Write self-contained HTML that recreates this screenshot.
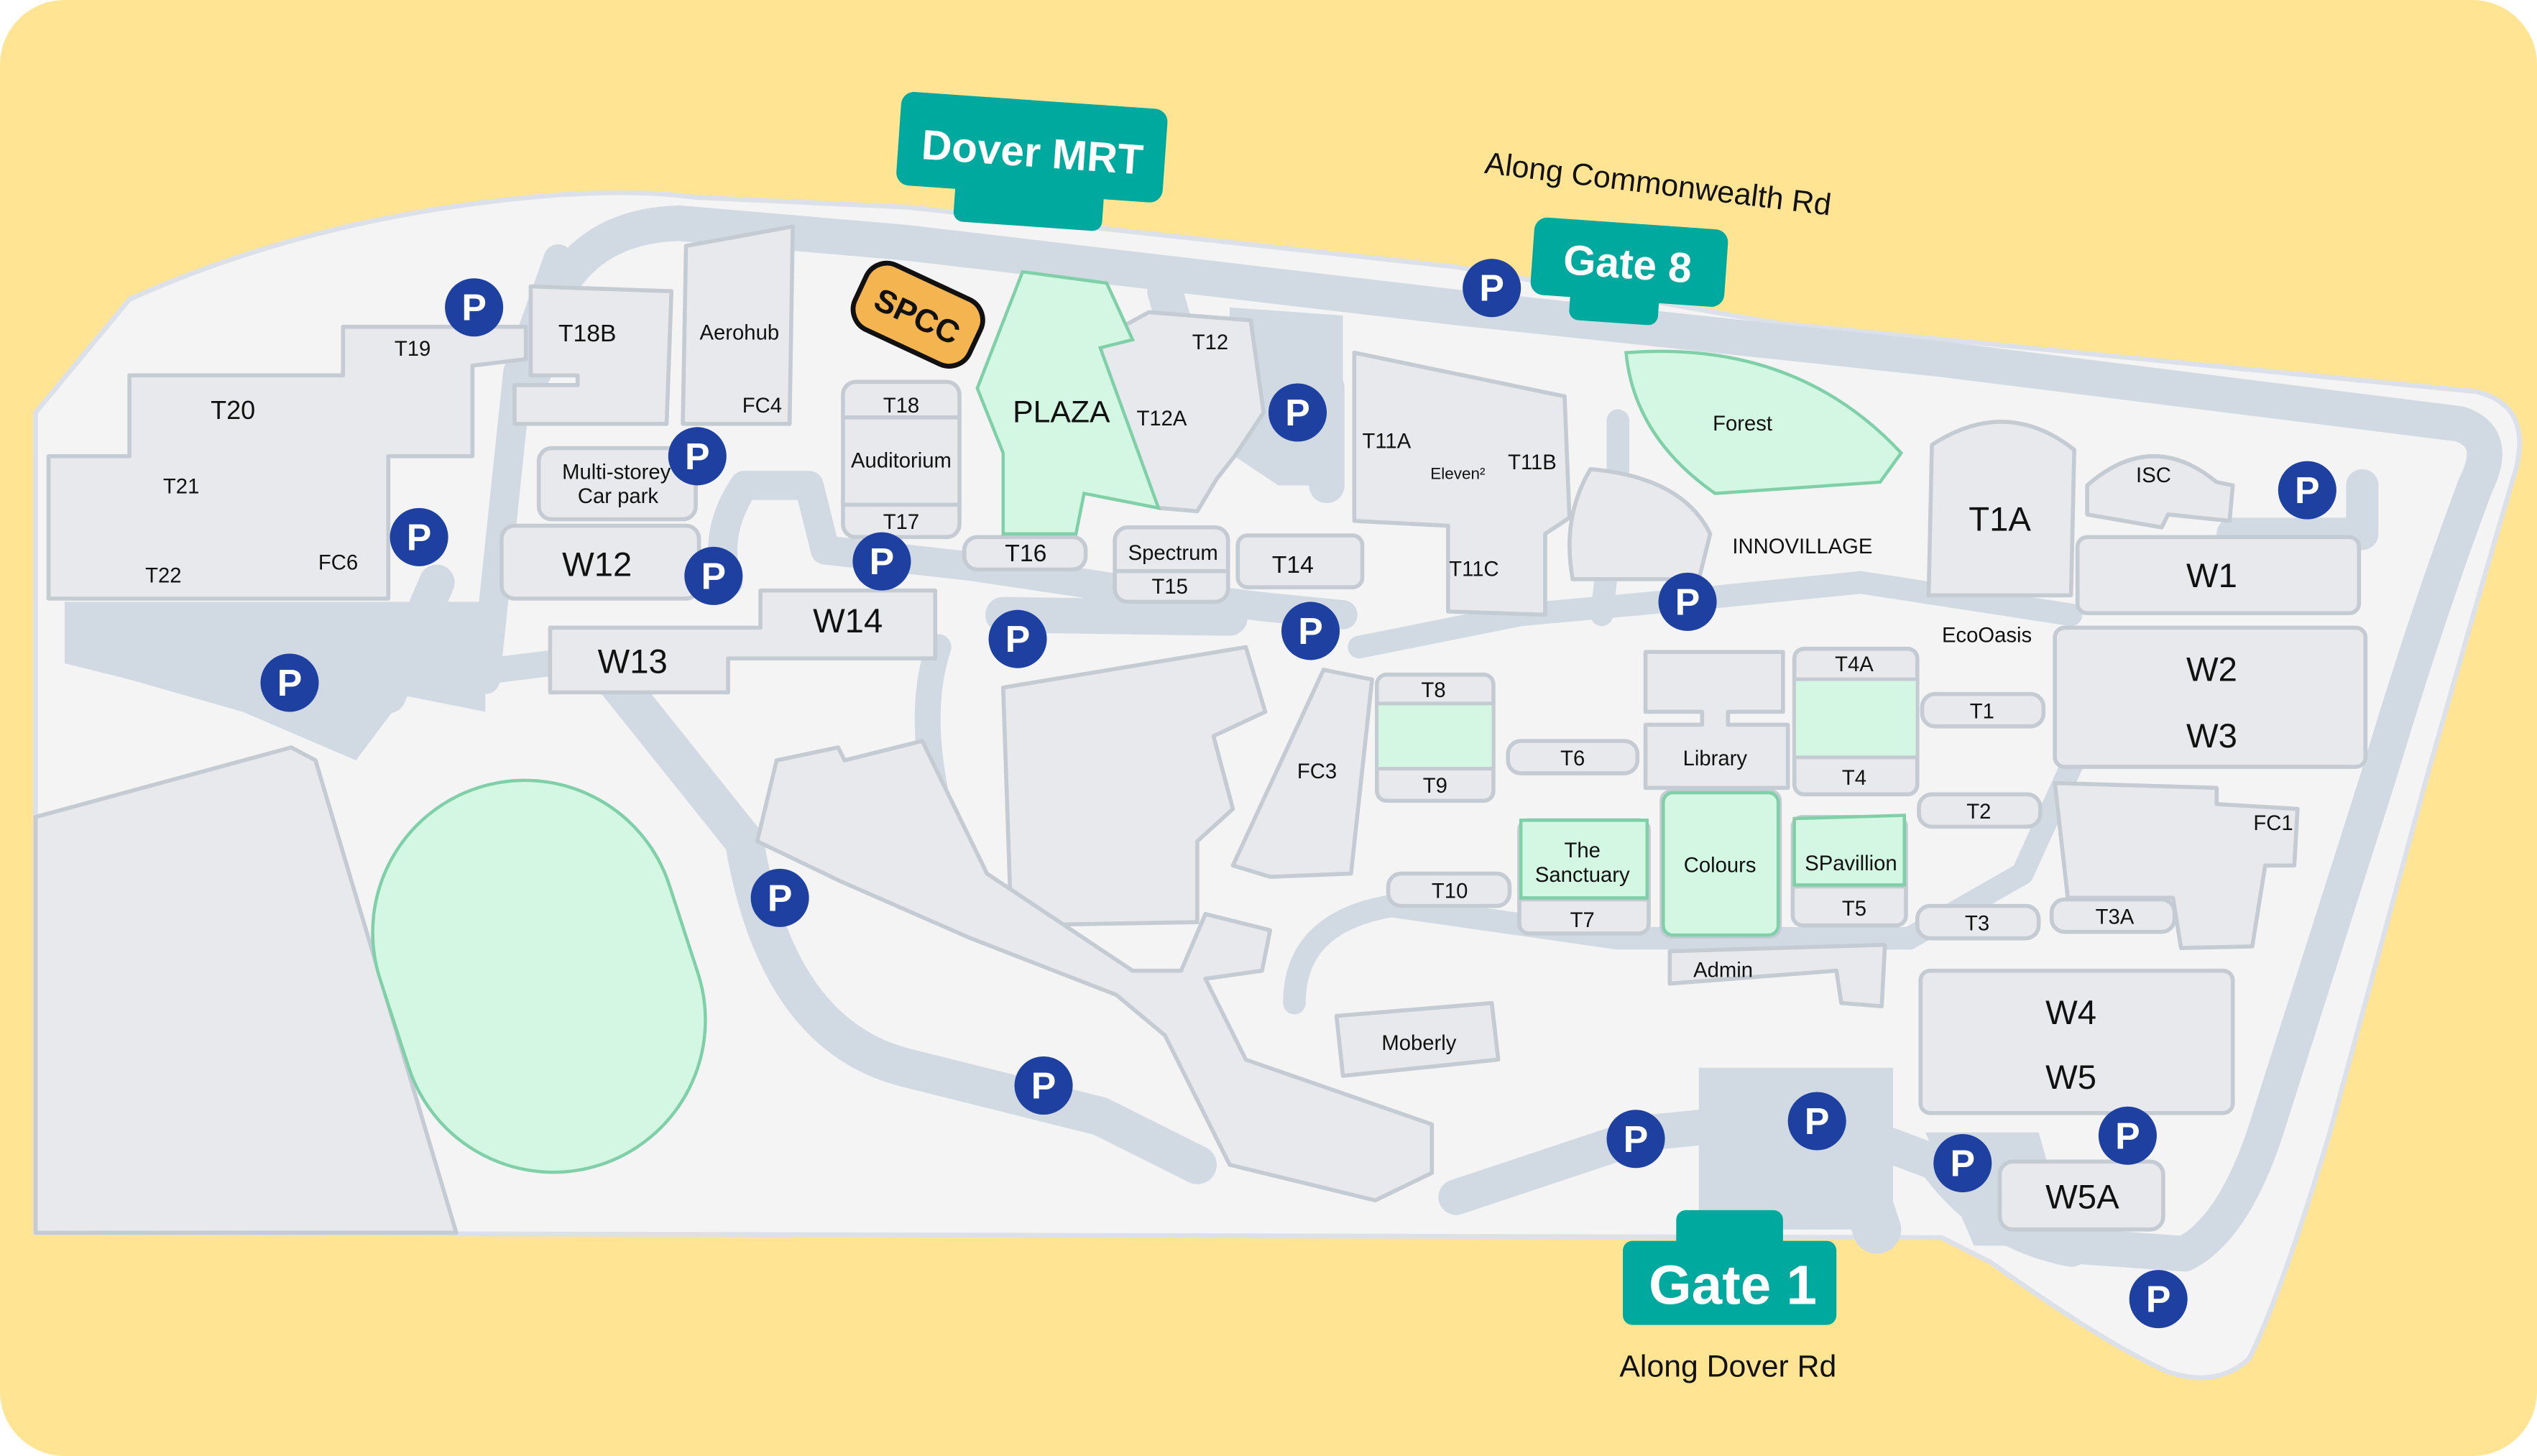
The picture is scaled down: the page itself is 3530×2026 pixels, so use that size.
<!DOCTYPE html>
<html><head><meta charset="utf-8"><style>
html,body{margin:0;padding:0;background:#fff}
svg{display:block}
text{font-family:"Liberation Sans",sans-serif;fill:#111}
</style></head><body>
<svg width="3530" height="2026" viewBox="0 0 1568 900" preserveAspectRatio="none" xmlns="http://www.w3.org/2000/svg">
<rect x="0" y="0" width="1568" height="900" rx="40" fill="#FFE494"/>
<path d="M22,255 L80,185 Q180,140 300,125 Q380,115 430,122 L560,128 L900,165 L1100,200 L1530,242 Q1565,250 1555,290 Q1540,340 1500,480 L1440,700 Q1410,800 1390,840 Q1370,858 1340,848 Q1300,830 1230,780 L1200,765 L22,762 Z" fill="#F4F4F4" stroke="#DCE0E8" stroke-width="3"/>
<g fill="#D1DAE3">
<path d="M40,372 L300,372 L300,440 L250,430 L220,470 L150,440 L80,420 L40,410 Z"/>
<path d="M760,190 L830,195 L830,300 L790,300 L760,280 Z"/>
<path d="M1050,660 L1170,660 L1170,760 L1050,760 Z"/>
<path d="M1190,700 L1260,700 L1280,770 L1220,770 Z"/>
</g>
<g fill="none" stroke="#D1DAE3" stroke-linecap="round" stroke-linejoin="round">
<path d="M330,230 Q340,140 420,138 L560,150 L900,190 L1200,222 L1520,262 Q1545,270 1530,300 Q1500,380 1470,480 L1400,700 Q1380,760 1350,775 L1280,770 L1200,720 L1120,690 L1020,700 L900,740" stroke-width="22"/>
<path d="M345,160 L320,230 L300,420 L240,400 L160,385" stroke-width="18"/>
<path d="M270,360 L240,430 L200,420" stroke-width="22"/>
<path d="M160,400 L260,420 L420,400" stroke-width="16"/>
<path d="M450,360 Q440,330 460,300 L500,300 L510,340 L600,350 L700,365 L780,375 L830,380" stroke-width="18"/>
<path d="M620,380 L760,382" stroke-width="22"/>
<path d="M380,420 L460,520 Q480,640 560,660 L680,690 L740,720" stroke-width="24"/>
<path d="M580,400 Q560,460 600,560" stroke-width="16"/>
<path d="M720,180 L740,250 L820,240 L820,300" stroke-width="22"/>
<path d="M800,620 Q800,570 860,560 L1000,580 L1180,580 L1250,540 L1300,430" stroke-width="14"/>
<path d="M840,400 L940,380 L1050,370 L1150,360 L1280,380" stroke-width="14"/>
<path d="M1080,690 L1080,760 M1140,700 L1160,760" stroke-width="30"/>
<path d="M990,380 L1000,290 L1000,260" stroke-width="14"/>
<path d="M1200,720 Q1230,760 1280,770" stroke-width="26"/>
<path d="M1460,300 L1460,330 L1380,330" stroke-width="20"/>
</g>
<g fill="#E8E9EC" stroke="#C5CBD2" stroke-width="2.5" stroke-linejoin="round">
<path d="M80,232 L212,232 L212,202 L325,202 L325,222 L292,226 L292,282 L240,282 L240,370 L30,370 L30,282 L80,282 Z"/>
<path d="M328,177 L415,180 L412,262 L318,262 L318,238 L357,238 L357,232 L328,232 Z"/>
<path d="M424,152 L490,140 L488,262 L422,262 Z"/>
<rect x="333" y="277" width="97" height="44" rx="8"/>
<rect x="310" y="325" width="122" height="45" rx="8"/>
<path d="M470,365 L578,365 L578,407 L450,407 L450,428 L340,428 L340,388 L470,388 Z"/>
<rect x="521" y="236" width="72" height="96" rx="8"/>
<path d="M679,210 L710,193 L773,198 L781,255 L763,282 L752,296 L740,316 L716,314 L693,270 Z"/>
<rect x="596" y="332" width="75" height="20" rx="8"/>
<rect x="689" y="326" width="70" height="46" rx="8"/>
<rect x="765" y="331" width="77" height="32" rx="6"/>
<path d="M837,218 L967,245 L970,320 L955,330 L955,380 L895,378 L895,325 L837,322 Z"/>
<path d="M983,290 Q1040,295 1057,330 L1050,358 L972,358 Q965,320 983,290 Z"/>
<path d="M1194,275 Q1240,245 1282,278 L1280,368 L1192,368 Z"/>
<path d="M1290,300 Q1330,265 1370,298 L1380,300 L1378,322 L1340,318 L1336,326 L1290,318 Z"/>
<rect x="1284" y="332" width="174" height="47" rx="6"/>
<rect x="1270" y="388" width="192" height="86" rx="6"/>
<path d="M1017,403 L1102,403 L1102,440 L1068,440 L1068,448 L1105,448 L1105,487 L1017,487 L1017,448 L1052,448 L1052,440 L1017,440 Z"/>
<rect x="1109" y="401" width="76" height="90" rx="6"/>
<rect x="1188" y="429" width="75" height="20" rx="8"/>
<rect x="1186" y="491" width="75" height="20" rx="8"/>
<rect x="1185" y="560" width="75" height="20" rx="8"/>
<rect x="1268" y="556" width="76" height="20" rx="8"/>
<path d="M1270,484 L1370,487 L1370,497 L1420,500 L1418,535 L1400,535 L1392,585 L1348,586 L1343,555 L1278,555 Z"/>
<rect x="932" y="458" width="80" height="20" rx="8"/>
<rect x="858" y="540" width="75" height="20" rx="8"/>
<rect x="851" y="417" width="72" height="78" rx="6"/>
<rect x="939" y="507" width="80" height="70" rx="6"/>
<rect x="1027" y="489" width="73" height="90" rx="6"/>
<rect x="1108" y="505" width="70" height="67" rx="6"/>
<path d="M1032,588 L1165,584 L1163,622 L1138,620 L1135,600 L1032,608 Z"/>
<rect x="1187" y="600" width="193" height="88" rx="6"/>
<rect x="1236" y="718" width="101" height="42" rx="8"/>
<path d="M826,628 L922,620 L926,655 L830,665 Z"/>
<path d="M818,414 L848,420 L835,540 L785,542 L762,535 Z"/>
<path d="M620,425 L770,400 L782,440 L750,455 L762,500 L740,520 L740,570 L625,572 Z"/>
<path d="M480,470 L518,462 L522,470 L570,458 L610,540 L700,600 L730,600 L745,565 L785,575 L780,600 L745,605 L770,655 L885,695 L885,725 L850,742 L760,720 L720,640 L690,615 L600,580 L520,545 L468,520 Z"/>
<path d="M22,505 L180,462 L195,470 L282,762 L22,762 Z"/>
</g>
<g stroke="#C5CBD2" stroke-width="2.5">
<line x1="521" y1="258" x2="593" y2="258"/><line x1="521" y1="312" x2="593" y2="312"/>
<line x1="689" y1="353" x2="759" y2="353"/>
<line x1="851" y1="435" x2="923" y2="435"/><line x1="851" y1="475" x2="923" y2="475"/>
<line x1="1109" y1="420" x2="1185" y2="420"/><line x1="1109" y1="468" x2="1185" y2="468"/>
<line x1="939" y1="556" x2="1019" y2="556"/><line x1="1108" y1="548" x2="1178" y2="548"/>
</g>
<g fill="#D4F7E3" stroke="#7FCFA8" stroke-width="2">
<path d="M632,168 L684,175 L700,210 L680,215 L716,314 L670,305 L665,330 L620,330 L620,280 L604,240 Z"/>
<path d="M1005,218 Q1110,210 1175,280 L1162,298 L1060,305 Q1010,270 1005,218 Z"/>
<rect x="852" y="436" width="70" height="38" fill="#D4F7E3" stroke="none"/>
<rect x="1110" y="421" width="74" height="46" stroke="none"/>
<path d="M940,507 L1018,507 L1018,555 L940,555 Z"/>
<rect x="1028" y="490" width="71" height="88" rx="6"/>
<path d="M1109,506 L1177,504 L1177,547 L1109,547 Z"/>
<rect x="239" y="481" width="188" height="245" rx="94" transform="rotate(-18 333 603)"/>
</g>
<g font-size="13" text-anchor="middle">
<text x="255" y="220">T19</text><text x="363" y="211" font-size="15">T18B</text>
<text x="457" y="210">Aerohub</text><text x="471" y="255">FC4</text>
<text x="144" y="259" font-size="16">T20</text><text x="112" y="305">T21</text>
<text x="101" y="360">T22</text><text x="209" y="352">FC6</text>
<text x="381" y="296">Multi-storey</text><text x="382" y="311">Car park</text>
<text x="369" y="356" font-size="21">W12</text><text x="524" y="391" font-size="21">W14</text>
<text x="391" y="416" font-size="21">W13</text>
<text x="557" y="255">T18</text><text x="557" y="289">Auditorium</text><text x="557" y="327">T17</text>
<text x="656" y="261" font-size="19">PLAZA</text>
<text x="748" y="216">T12</text><text x="718" y="263">T12A</text>
<text x="634" y="347" font-size="15">T16</text>
<text x="725" y="346">Spectrum</text><text x="723" y="367">T15</text>
<text x="799" y="354" font-size="15">T14</text>
<text x="857" y="277">T11A</text><text x="901" y="296" font-size="10">Eleven²</text>
<text x="947" y="290">T11B</text><text x="911" y="356">T11C</text>
<text x="1077" y="266">Forest</text><text x="1114" y="342">INNOVILLAGE</text>
<text x="1236" y="328" font-size="21">T1A</text><text x="1331" y="298">ISC</text>
<text x="1367" y="363" font-size="21">W1</text><text x="1228" y="397">EcoOasis</text>
<text x="1367" y="421" font-size="21">W2</text><text x="1367" y="462" font-size="21">W3</text>
<text x="1146" y="415">T4A</text><text x="1146" y="485">T4</text>
<text x="1225" y="444">T1</text><text x="1223" y="506">T2</text><text x="1222" y="575">T3</text>
<text x="1307" y="571">T3A</text><text x="1405" y="513">FC1</text>
<text x="1060" y="473">Library</text><text x="972" y="473">T6</text>
<text x="886" y="431">T8</text><text x="887" y="490">T9</text>
<text x="814" y="481">FC3</text><text x="896" y="555">T10</text>
<text x="978" y="530">The</text><text x="978" y="545">Sanctuary</text><text x="978" y="573">T7</text>
<text x="1063" y="539">Colours</text><text x="1144" y="538">SPavillion</text><text x="1146" y="566">T5</text>
<text x="1065" y="604">Admin</text><text x="877" y="649">Moberly</text>
<text x="1280" y="633" font-size="21">W4</text><text x="1280" y="673" font-size="21">W5</text>
<text x="1287" y="747" font-size="21">W5A</text>
</g>
<g transform="rotate(25 566 195)">
<rect x="528" y="172" width="78" height="44" rx="14" fill="#F4B450" stroke="#111" stroke-width="3"/>
<text x="567" y="202" font-size="20" font-weight="bold" text-anchor="middle">SPCC</text>
</g>
<g transform="rotate(4 638 95)">
<rect x="555" y="62" width="165" height="58" rx="8" fill="#00A99D"/>
<rect x="592" y="100" width="92" height="40" rx="6" fill="#00A99D"/>
<text x="638" y="103" font-size="26" font-weight="bold" text-anchor="middle" style="fill:#fff">Dover MRT</text>
</g>
<g transform="rotate(4 1006 162)">
<rect x="947" y="138" width="120" height="48" rx="8" fill="#00A99D"/>
<rect x="972" y="170" width="55" height="30" rx="6" fill="#00A99D"/>
<text x="1006" y="172" font-size="26" font-weight="bold" text-anchor="middle" style="fill:#fff">Gate 8</text>
</g>
<text x="1024" y="120" font-size="19" text-anchor="middle" transform="rotate(7 1024 120)">Along Commonwealth Rd</text>
<rect x="1036" y="748" width="66" height="30" rx="6" fill="#00A99D"/>
<rect x="1003" y="767" width="132" height="52" rx="6" fill="#00A99D"/>
<text x="1071" y="806" font-size="34" font-weight="bold" text-anchor="middle" style="fill:#fff">Gate 1</text>
<text x="1068" y="851" font-size="19" text-anchor="middle">Along Dover Rd</text>
<g font-size="23" font-weight="bold" text-anchor="middle">
<g fill="#1E40A0">
<circle cx="293" cy="190" r="18"/><circle cx="431" cy="282" r="18"/><circle cx="259" cy="332" r="18"/>
<circle cx="441" cy="356" r="18"/><circle cx="545" cy="347" r="18"/><circle cx="179" cy="422" r="18"/>
<circle cx="629" cy="395" r="18"/><circle cx="482" cy="555" r="18"/><circle cx="645" cy="671" r="18"/>
<circle cx="922" cy="178" r="18"/><circle cx="802" cy="255" r="18"/><circle cx="810" cy="390" r="18"/>
<circle cx="1043" cy="372" r="18"/><circle cx="1426" cy="303" r="18"/><circle cx="1011" cy="704" r="18"/>
<circle cx="1123" cy="693" r="18"/><circle cx="1213" cy="719" r="18"/><circle cx="1315" cy="702" r="18"/>
<circle cx="1334" cy="803" r="18"/>
</g>
<g>
<text x="293" y="198" style="fill:#fff">P</text><text x="431" y="290" style="fill:#fff">P</text><text x="259" y="340" style="fill:#fff">P</text>
<text x="441" y="364" style="fill:#fff">P</text><text x="545" y="355" style="fill:#fff">P</text><text x="179" y="430" style="fill:#fff">P</text>
<text x="629" y="403" style="fill:#fff">P</text><text x="482" y="563" style="fill:#fff">P</text><text x="645" y="679" style="fill:#fff">P</text>
<text x="922" y="186" style="fill:#fff">P</text><text x="802" y="263" style="fill:#fff">P</text><text x="810" y="398" style="fill:#fff">P</text>
<text x="1043" y="380" style="fill:#fff">P</text><text x="1426" y="311" style="fill:#fff">P</text><text x="1011" y="712" style="fill:#fff">P</text>
<text x="1123" y="701" style="fill:#fff">P</text><text x="1213" y="727" style="fill:#fff">P</text><text x="1315" y="710" style="fill:#fff">P</text>
<text x="1334" y="811" style="fill:#fff">P</text>
</g>
</g>
</svg>
</body></html>
